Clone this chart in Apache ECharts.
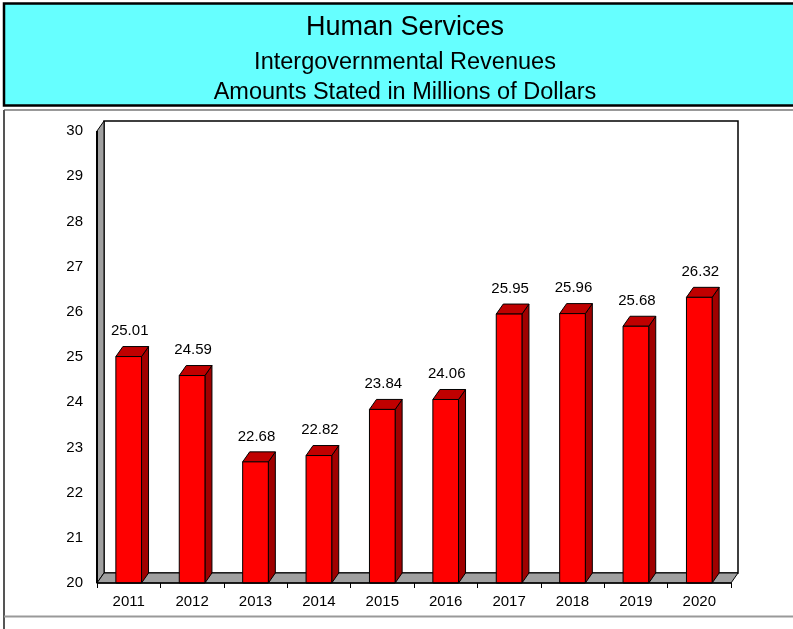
<!DOCTYPE html>
<html>
<head>
<meta charset="utf-8">
<script src="https://cdn.jsdelivr.net/npm/echarts/dist/echarts.min.js"></script>
<style>
  html, body { margin: 0; padding: 0; background: #ffffff; }
  #chart { width: 793px; height: 629px; }
</style>
</head>
<body>
<div id="chart"></div>
<script>
// Fiscal years shown on the category axis
const years = ['2011', '2012', '2013', '2014', '2015', '2016', '2017', '2018', '2019', '2020'];
// Intergovernmental revenues, millions of dollars
const revenues = [25.01, 24.59, 22.68, 22.82, 23.84, 24.06, 25.95, 25.96, 25.68, 26.32];
// Value axis range and step
const yMin = 20;
const yMax = 30;
const yStep = 1;

const titleLines = ['Human Services', 'Intergovernmental Revenues', 'Amounts Stated in Millions of Dollars'];

// Depth offset of the pseudo-3D extrusion (pixels)
const DX = 7;
const DY = 10;
const FONT = 'Liberation Sans, Arial, Helvetica, sans-serif';

const chart = echarts.init(document.getElementById('chart'), null, { renderer: 'canvas' });

// Back wall, left wall and floor of the 3D box, drawn from the grid rectangle
function renderWalls(params, api) {
  const cs = params.coordSys;
  const x = cs.x, y = cs.y, w = cs.width, h = cs.height;
  const wallStyle = { fill: '#a0a0a0', stroke: '#000', lineWidth: 1 };
  return {
    type: 'group',
    children: [
      {
        type: 'rect',
        shape: { x: x + DX, y: y - DY, width: w, height: h },
        style: { fill: '#ffffff', stroke: '#000', lineWidth: 1.5 }
      },
      {
        type: 'polygon',
        shape: { points: [[x, y], [x + DX, y - DY], [x + DX, y + h - DY], [x, y + h]] },
        style: wallStyle
      },
      {
        type: 'polygon',
        shape: { points: [[x, y + h], [x + DX, y + h - DY], [x + w + DX, y + h - DY], [x + w, y + h]] },
        style: wallStyle
      },
      {
        type: 'line',
        shape: { x1: x, y1: y, x2: x, y2: y + h },
        style: { stroke: '#000', lineWidth: 2 }
      }
    ]
  };
}

// Extruded bar: front face, right side, top face and value label
function renderBar(params, api) {
  const idx = api.value(0);
  const val = api.value(1);
  const top = api.coord([idx, val]);
  const base = api.coord([idx, yMin]);
  const band = api.size([1, 0])[0];
  const bw = band * 0.405;
  const l = top[0] - bw / 2;
  const r = top[0] + bw / 2;
  const ty = top[1];
  const by = base[1];
  const edge = { stroke: '#000', lineWidth: 1, lineJoin: 'round' };
  return {
    type: 'group',
    children: [
      {
        type: 'polygon',
        shape: { points: [[r, ty], [r + DX, ty - DY], [r + DX, by - DY], [r, by]] },
        style: Object.assign({ fill: '#a00000' }, edge)
      },
      {
        type: 'polygon',
        shape: { points: [[l, ty], [l + DX, ty - DY], [r + DX, ty - DY], [r, ty]] },
        style: Object.assign({ fill: '#c00000' }, edge)
      },
      {
        type: 'rect',
        shape: { x: l, y: ty, width: bw, height: by - ty },
        style: Object.assign({ fill: '#ff0000' }, edge)
      },
      {
        type: 'text',
        x: top[0] + 1,
        y: ty - DY - 8,
        style: {
          text: val.toFixed(2),
          fill: '#000',
          font: '15px ' + FONT,
          align: 'center',
          verticalAlign: 'bottom'
        }
      }
    ]
  };
}

const option = {
  animation: false,
  backgroundColor: '#ffffff',
  graphic: [
    {
      type: 'rect',
      shape: { x: 4, y: 3.5, width: 800, height: 102 },
      style: { fill: '#66ffff', stroke: '#000', lineWidth: 2.5 },
      z: 0
    },
    {
      type: 'line',
      shape: { x1: 4, y1: 110, x2: 793, y2: 110 },
      style: { stroke: '#999', lineWidth: 2 }
    },
    {
      type: 'line',
      shape: { x1: 4, y1: 110, x2: 4, y2: 629 },
      style: { stroke: '#555', lineWidth: 2 }
    },
    {
      type: 'line',
      shape: { x1: 4, y1: 616.5, x2: 793, y2: 616.5 },
      style: { stroke: '#999', lineWidth: 2 }
    },
    {
      type: 'text', x: 405, y: 28,
      style: { text: titleLines[0], font: '27px ' + FONT, fill: '#000', align: 'center', verticalAlign: 'middle' }
    },
    {
      type: 'text', x: 405, y: 63,
      style: { text: titleLines[1], font: '23.5px ' + FONT, fill: '#000', align: 'center', verticalAlign: 'middle' }
    },
    {
      type: 'text', x: 405, y: 93,
      style: { text: titleLines[2], font: '23.5px ' + FONT, fill: '#000', align: 'center', verticalAlign: 'middle' }
    }
  ],
  grid: { left: 97, right: 62, top: 131, bottom: 46 },
  xAxis: {
    type: 'category',
    data: years,
    boundaryGap: true,
    axisLine: { show: true, lineStyle: { color: '#000', width: 1.5 } },
    axisTick: { show: true, length: 5, lineStyle: { color: '#000' } },
    axisLabel: { color: '#000', fontSize: 15, fontFamily: FONT, margin: 11 },
    splitLine: { show: false },
    z: 5
  },
  yAxis: {
    type: 'value',
    min: yMin,
    max: yMax,
    interval: yStep,
    axisLine: { show: false },
    axisTick: { show: false },
    axisLabel: { color: '#000', fontSize: 15, fontFamily: FONT, margin: 14 },
    splitLine: { show: false }
  },
  series: [
    {
      type: 'custom',
      name: 'walls',
      renderItem: renderWalls,
      data: [[0, yMin]],
      encode: { x: 0, y: 1 },
      silent: true,
      z: 1
    },
    {
      type: 'custom',
      name: 'Intergovernmental Revenues',
      renderItem: renderBar,
      data: years.map((y, i) => [i, revenues[i]]),
      encode: { x: 0, y: 1 },
      z: 2
    }
  ]
};

chart.setOption(option);
</script>
</body>
</html>
